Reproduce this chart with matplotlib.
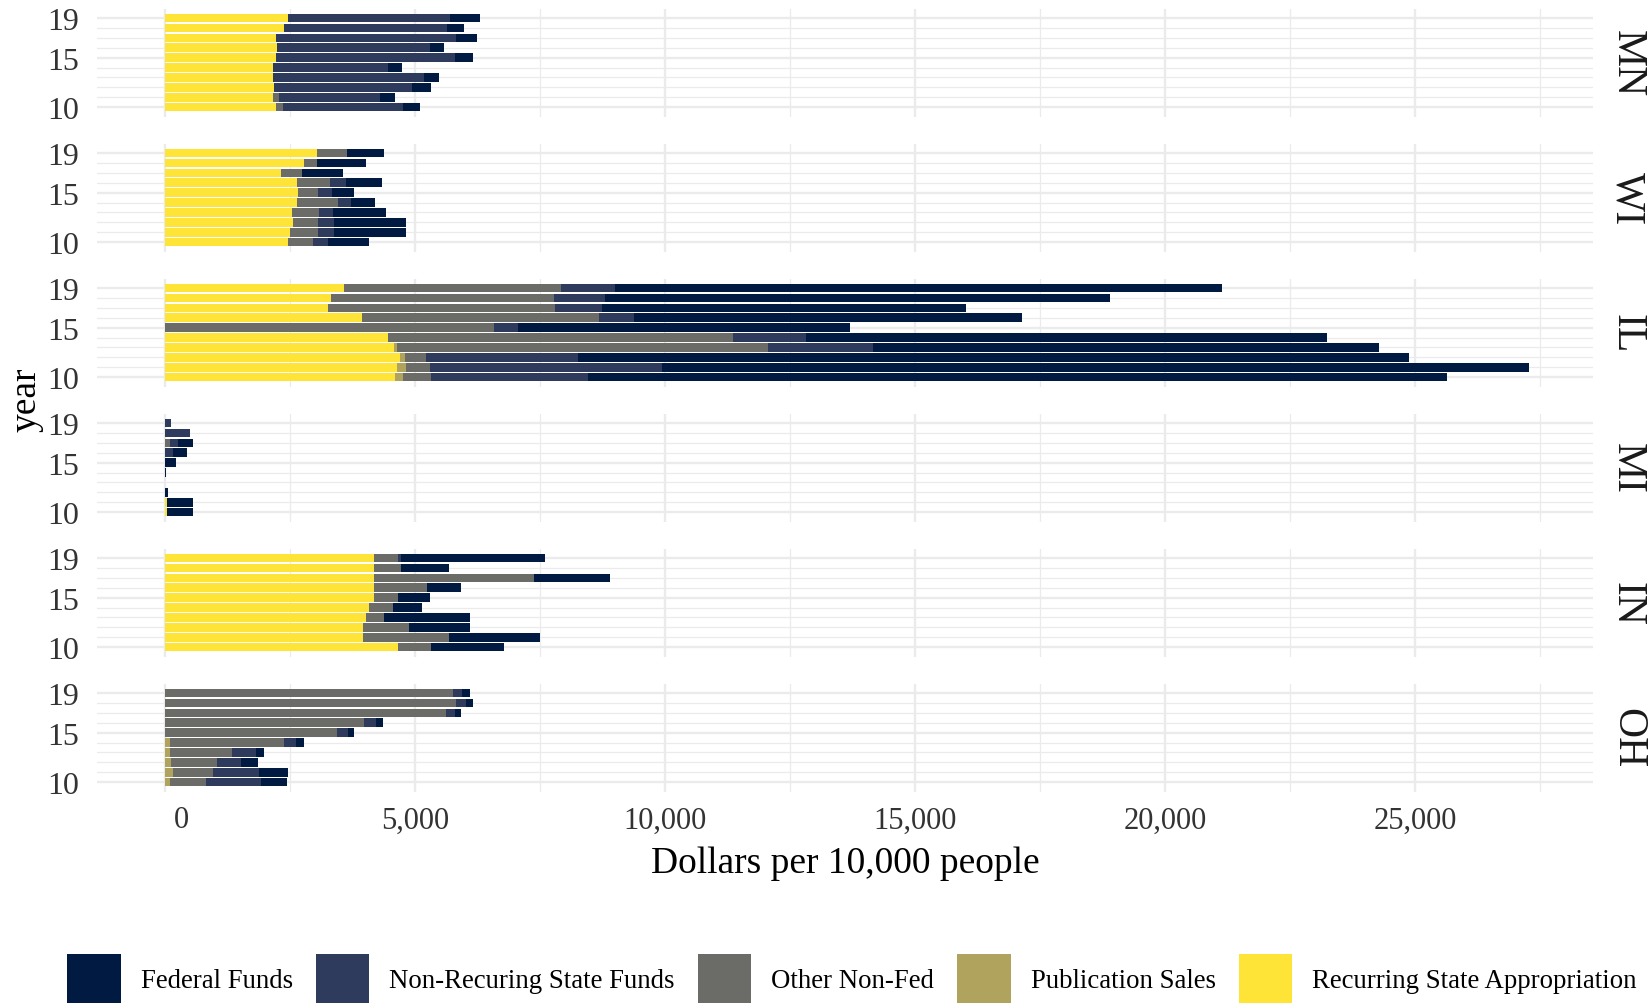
import matplotlib
matplotlib.use("Agg")
import matplotlib.pyplot as plt
import matplotlib.transforms as mtransforms
from matplotlib.patches import Patch
import numpy as np

plt.rcParams["font.family"] = ["Liberation Serif", "DejaVu Serif"]

years = np.arange(10, 20)
states = ["MN", "WI", "IL", "MI", "IN", "OH"]
sources = ["Federal Funds", "Non-Recuring State Funds", "Other Non-Fed",
           "Publication Sales", "Recurring State Appropriation"]
colors = {
    "Federal Funds": "#001A41",
    "Non-Recuring State Funds": "#2F3B5C",
    "Other Non-Fed": "#6B6B67",
    "Publication Sales": "#AFA35E",
    "Recurring State Appropriation": "#FDE437",
}

# dollars per 10,000 people, years 10..19
MN = {
    "Recurring State Appropriation": [2215, 2155, 2182, 2155, 2155, 2215, 2242, 2229, 2383, 2463],
    "Publication Sales": [0, 0, 0, 0, 0, 0, 0, 0, 0, 0],
    "Other Non-Fed": [148, 121, 0, 0, 0, 0, 0, 0, 0, 0],
    "Non-Recuring State Funds": [2389, 2028, 2757, 3019, 2296, 3588, 3065, 3594, 3259, 3246],
    "Federal Funds": [355, 301, 382, 314, 288, 361, 282, 422, 328, 582],
}
WI = {
    "Recurring State Appropriation": [2463, 2496, 2563, 2530, 2644, 2657, 2644, 2322, 2778, 3030],
    "Publication Sales": [0, 0, 0, 0, 0, 0, 0, 0, 0, 0],
    "Other Non-Fed": [489, 569, 489, 555, 816, 408, 656, 409, 254, 600],
    "Non-Recuring State Funds": [301, 322, 335, 268, 268, 268, 314, 0, 0, 0],
    "Federal Funds": [830, 1432, 1432, 1064, 475, 448, 723, 836, 990, 740],
}
IL = {
    "Recurring State Appropriation": [4598, 4632, 4692, 4579, 4465, 0, 3943, 3262, 3315, 3576],
    "Publication Sales": [168, 187, 107, 60, 0, 0, 0, 0, 0, 0],
    "Other Non-Fed": [547, 481, 414, 7425, 6897, 6570, 4732, 4544, 4458, 4344],
    "Non-Recuring State Funds": [3155, 4638, 3041, 2091, 1456, 481, 695, 936, 1036, 1082],
    "Federal Funds": [17176, 17351, 16621, 10126, 10427, 6657, 7773, 7284, 10091, 12138],
}
MI = {
    "Recurring State Appropriation": [33, 30, 0, 0, 0, 0, 0, 0, 0, 0],
    "Publication Sales": [0, 0, 0, 0, 0, 0, 0, 0, 0, 0],
    "Other Non-Fed": [0, 0, 0, 0, 0, 0, 0, 100, 0, 0],
    "Non-Recuring State Funds": [0, 0, 0, 0, 0, 0, 154, 167, 501, 114],
    "Federal Funds": [535, 538, 67, 0, 25, 214, 280, 301, 0, 0],
}
IN = {
    "Recurring State Appropriation": [4658, 3968, 3968, 4014, 4086, 4175, 4175, 4175, 4175, 4175],
    "Publication Sales": [0, 0, 0, 0, 0, 0, 0, 0, 0, 0],
    "Other Non-Fed": [671, 1702, 914, 375, 465, 483, 1064, 3195, 545, 483],
    "Non-Recuring State Funds": [0, 0, 0, 0, 0, 0, 0, 0, 0, 60],
    "Federal Funds": [1460, 1835, 1226, 1702, 590, 645, 672, 1539, 968, 2876],
}
OH = {
    "Recurring State Appropriation": [0, 0, 0, 0, 0, 0, 0, 0, 0, 0],
    "Publication Sales": [93, 165, 120, 93, 93, 0, 0, 0, 0, 0],
    "Other Non-Fed": [717, 797, 922, 1253, 2292, 3449, 3987, 5616, 5822, 5750],
    "Non-Recuring State Funds": [1108, 921, 482, 475, 242, 207, 233, 188, 197, 197],
    "Federal Funds": [528, 573, 341, 152, 160, 125, 135, 116, 143, 144],
}
funding = {"MN": MN, "WI": WI, "IL": IL, "MI": MI, "IN": IN, "OH": OH}

W, H = 1651, 1004
fig = plt.figure(figsize=(W / 100, H / 100), dpi=100)

# panel geometry in pixels
px_left, px_right = 97, 1593
px_top, px_height, px_pitch = 9.6, 108, 135
grid_col = "#EBEBEB"

for i, st in enumerate(states):
    top = px_top + i * px_pitch
    ax = fig.add_axes([px_left / W, 1 - (top + px_height) / H,
                       (px_right - px_left) / W, px_height / H])
    left = np.zeros(len(years))
    for src in sources[::-1]:
        vals = np.array(funding[st][src], dtype=float)
        ax.barh(years, vals, left=left, height=0.86, color=colors[src],
                linewidth=0, zorder=3)
        left += vals

    ax.set_xlim(-1360, 28560)
    ax.set_ylim(9.055, 19.945)
    ax.set_yticks([10, 15, 19])
    ax.set_yticks([y for y in years if y not in (10, 15, 19)], minor=True)
    ax.set_xticks(np.arange(0, 25001, 5000))
    ax.set_xticks(np.arange(2500, 27501, 5000), minor=True)
    ax.grid(which="major", color=grid_col, linewidth=1.7, zorder=0)
    ax.grid(which="minor", color=grid_col, linewidth=0.9, zorder=0)
    ax.set_axisbelow(True)
    for s in ax.spines.values():
        s.set_visible(False)
    ax.tick_params(which="both", length=0)
    ax.tick_params(axis="y", labelsize=23, pad=13, labelcolor="#333333")
    ax.set_yticklabels(["10", "15", "19"])

    if i < len(states) - 1:
        ax.tick_params(axis="x", labelbottom=False)
    else:
        ax.set_xticklabels([f"{v:,}" for v in range(0, 25001, 5000)])
        ax.tick_params(axis="x", labelsize=22, pad=10, labelcolor="#333333")
        zero = ax.xaxis.get_major_ticks()[0].label1
        zero.set_transform(zero.get_transform() +
                           mtransforms.ScaledTranslation(0.16, 0, fig.dpi_scale_trans))

    ax.text(1 + 34 / (px_right - px_left), 0.5, st, transform=ax.transAxes,
            rotation=-90, ha="center", va="center", fontsize=30, color="#1a1a1a")

fig.text(845 / W, 1 - 864 / H, "Dollars per 10,000 people",
         ha="center", va="center", fontsize=27)
fig.text(26 / W, 1 - 400 / H, "year", rotation=90,
         ha="center", va="center", fontsize=27)

handles = [Patch(facecolor=colors[s], edgecolor="none") for s in sources]
fig.legend(handles, sources, loc="center", bbox_to_anchor=(852 / W, 1 - 980 / H),
           ncol=5, frameon=False, fontsize=19.3, handlelength=2.0,
           handleheight=2.45, handletextpad=0.75, columnspacing=0.85,
           borderaxespad=0, borderpad=0)

fig.savefig("out.png", dpi=100)
